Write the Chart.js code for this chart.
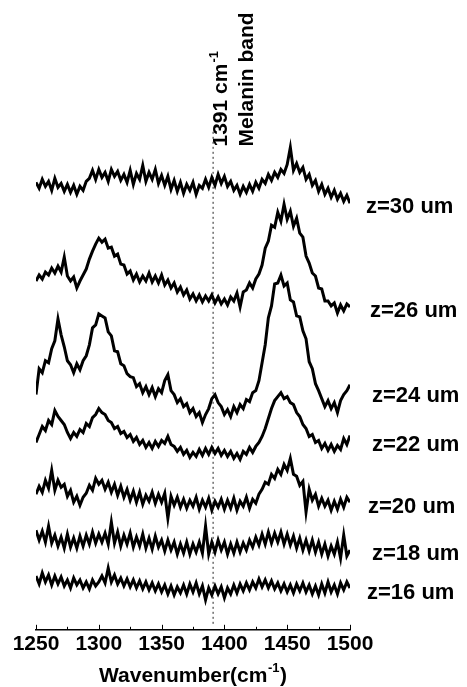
<!DOCTYPE html>
<html><head><meta charset="utf-8">
<script src="https://cdn.jsdelivr.net/npm/chart.js@4"></script>
<style>html,body{margin:0;padding:0;background:#fff;}#wrap{width:467px;height:687px;}</style>
</head><body><div id="wrap"><canvas id="c" width="467" height="687"></canvas></div>
<script>
// Wavenumber sampling (cm^-1)
const wavenumberStart = 1250;
const wavenumberStep = 2.5;
const xTicks = [1250, 1300, 1350, 1400, 1450, 1500];
const depthLabels = ['z=30 um', 'z=26 um', 'z=24 um', 'z=22 um', 'z=20 um', 'z=18 um', 'z=16 um'];
// Offset Raman intensities (a.u.)
const z30 = [449,443,452,445,450,441,453,444,448,440,447,439,446,437,445,441,450,453,461,452,462,454,459,450,462,455,460,451,457,449,461,447,458,452,466,450,459,452,462,448,456,446,455,442,451,440,449,438,447,441,449,437,446,443,452,444,454,446,457,448,455,445,450,441,446,437,445,439,447,440,449,443,452,448,457,451,459,454,462,458,467,484,461,468,459,464,452,457,446,451,440,447,437,443,434,441,432,438,430,436,428];
const z26 = [350,356,352,359,356,363,358,365,359,374,355,350,354,343,350,356,362,372,380,387,393,389,392,383,384,375,377,367,366,357,360,351,357,349,355,350,358,349,355,348,356,346,351,343,348,339,344,336,341,332,337,330,336,329,335,330,336,328,334,327,332,326,334,330,338,324,339,341,348,343,352,357,366,383,390,406,404,419,410,427,412,420,405,413,398,394,375,368,358,355,343,342,330,330,325,328,318,326,320,327,324];
const z24 = [236,262,258,270,268,282,290,312,296,284,270,266,258,267,261,270,275,286,303,306,317,315,313,299,295,280,279,267,265,257,254,253,244,247,238,244,236,243,234,242,238,250,256,240,236,228,232,224,227,218,222,214,218,208,216,222,232,236,228,224,216,221,214,224,218,226,222,231,229,238,240,250,268,286,313,325,347,348,356,345,348,331,329,315,314,300,292,269,262,247,240,232,224,230,222,228,218,230,236,240,246];
const z22 = [188,196,204,200,210,206,220,214,210,206,198,192,198,194,201,198,207,204,213,216,222,218,216,210,208,202,204,197,199,193,196,189,193,186,190,183,188,182,189,184,190,187,194,186,184,179,183,176,180,173,178,174,181,175,182,176,183,177,182,175,180,174,179,172,177,171,179,176,183,178,184,188,194,202,212,222,230,234,238,232,234,228,226,218,214,206,202,194,196,188,190,182,187,180,186,179,185,181,192,186,195];
const z20 = [136,144,138,150,142,160,140,150,143,146,134,140,128,134,125,133,137,145,140,152,146,150,141,148,138,146,135,144,133,141,130,139,128,138,126,135,129,138,127,136,128,137,112,134,125,133,123,131,122,130,124,133,121,130,123,132,120,129,123,131,121,130,122,132,120,129,124,133,122,131,127,136,141,148,146,156,152,161,156,166,160,172,156,154,145,149,118,141,130,136,124,132,124,130,120,129,121,131,123,133,128];
const z18 = [100,90,99,88,104,87,95,84,93,82,96,83,92,82,94,84,95,86,98,87,96,88,97,86,108,87,98,84,95,86,97,83,93,84,96,82,92,81,94,83,90,79,90,80,88,76,86,77,88,76,86,78,88,77,104,76,88,78,90,80,88,76,86,77,88,78,87,80,90,83,93,85,96,86,98,87,97,88,98,86,96,85,94,82,92,80,90,79,90,78,88,76,86,74,84,76,88,72,95,74,80];
const z16 = [54,46,57,48,55,45,54,46,53,44,50,42,52,45,50,42,48,41,50,44,48,54,47,62,48,55,46,52,44,51,43,50,42,49,41,48,40,47,39,46,38,45,36,44,35,43,37,45,36,46,38,47,36,44,30,42,35,44,36,43,32,42,36,45,37,46,39,47,40,48,42,51,43,50,42,49,41,47,39,46,38,45,37,46,39,47,38,45,36,44,35,46,37,48,38,45,36,47,40,48,42];
const seriesList = [z30, z26, z24, z22, z20, z18, z16];
// Label levels (same intensity units) for each depth label
const labelLevels = [418, 314, 229, 179, 117, 70, 31];
// Melanin band marker
const melaninBand = 1391;
const bandLineRange = [6, 502];
const bandTextLevel = 485;

const FONT = '"Liberation Sans", Arial, Helvetica, sans-serif';

const datasets = seriesList.map((arr, k) => ({
  label: depthLabels[k],
  data: arr.map((v, i) => ({ x: wavenumberStart + i * wavenumberStep, y: v })),
  borderColor: '#000',
  borderWidth: 3,
  borderJoinStyle: 'miter',
  pointRadius: 0,
  tension: 0,
  fill: false
}));
datasets.push({
  label: 'band',
  data: bandLineRange.map(v => ({ x: melaninBand, y: v })),
  borderColor: '#222',
  borderWidth: 1,
  borderDash: [2, 3],
  pointRadius: 0,
  fill: false
});

const labelOffsets = [16, 20, 22, 22, 18, 22, 17];

const decor = {
  id: 'decor',
  afterDraw(chart) {
    const ctx = chart.ctx, xs = chart.scales.x, ys = chart.scales.y, ca = chart.chartArea;
    ctx.save();
    ctx.strokeStyle = '#000';
    ctx.lineWidth = 1;
    for (let v = xs.min; v <= xs.max; v += 25) {
      const major = xTicks.includes(v);
      const px = Math.round(xs.getPixelForValue(v)) + 0.5;
      ctx.beginPath();
      ctx.moveTo(px, ca.bottom);
      ctx.lineTo(px, ca.bottom - (major ? 5 : 3));
      ctx.stroke();
    }
    ctx.fillStyle = '#000';
    ctx.font = 'bold 22px ' + FONT;
    ctx.textAlign = 'left';
    ctx.textBaseline = 'alphabetic';
    depthLabels.forEach((t, i) => {
      ctx.fillText(t, ca.right + labelOffsets[i], ys.getPixelForValue(labelLevels[i]));
    });
    const bx = xs.getPixelForValue(melaninBand);
    const by = ys.getPixelForValue(bandTextLevel);
    ctx.save();
    ctx.translate(bx + 14, by);
    ctx.rotate(-Math.PI / 2);
    ctx.font = 'bold 21px ' + FONT;
    const main = '1391 cm';
    ctx.fillText(main, 0, 0);
    const w = ctx.measureText(main).width;
    ctx.font = 'bold 13px ' + FONT;
    ctx.fillText('-1', w + 1, -9);
    ctx.restore();
    ctx.save();
    ctx.translate(bx + 40, by);
    ctx.rotate(-Math.PI / 2);
    ctx.font = 'bold 21px ' + FONT;
    ctx.fillText('Melanin band', 0, 0);
    ctx.restore();
    const big = 'bold 21px ' + FONT, small = 'bold 13px ' + FONT;
    ctx.font = big;
    const p1 = 'Wavenumber(cm', p3 = ')';
    const w1 = ctx.measureText(p1).width, w3 = ctx.measureText(p3).width;
    ctx.font = small;
    const w2 = ctx.measureText('-1').width;
    const total = w1 + w2 + w3 + 1;
    let x0 = (ca.left + ca.right) / 2 - total / 2;
    const yb = chart.height - 5;
    ctx.font = big;
    ctx.fillText(p1, x0, yb);
    ctx.font = small;
    ctx.fillText('-1', x0 + w1 + 0.5, yb - 10);
    ctx.font = big;
    ctx.fillText(p3, x0 + w1 + w2 + 1, yb);
    ctx.restore();
  }
};

new Chart(document.getElementById('c'), {
  type: 'line',
  data: { datasets },
  options: {
    responsive: false,
    animation: false,
    devicePixelRatio: 1,
    layout: { padding: { left: 36, right: 117, top: 0, bottom: 28 } },
    plugins: { legend: { display: false }, tooltip: { enabled: false } },
    scales: {
      x: {
        type: 'linear', min: 1250, max: 1500,
        afterBuildTicks: s => { s.ticks = xTicks.map(v => ({ value: v })); },
        ticks: { callback: v => String(v), font: { family: FONT, size: 21, weight: 'bold' }, color: '#000', padding: 2, maxRotation: 0, autoSkip: false },
        grid: { display: false, drawTicks: false },
        border: { display: true, color: '#000', width: 1.5 }
      },
      y: { display: false, min: 0, max: 632 }
    }
  },
  plugins: [decor]
});
</script>
</body></html>
